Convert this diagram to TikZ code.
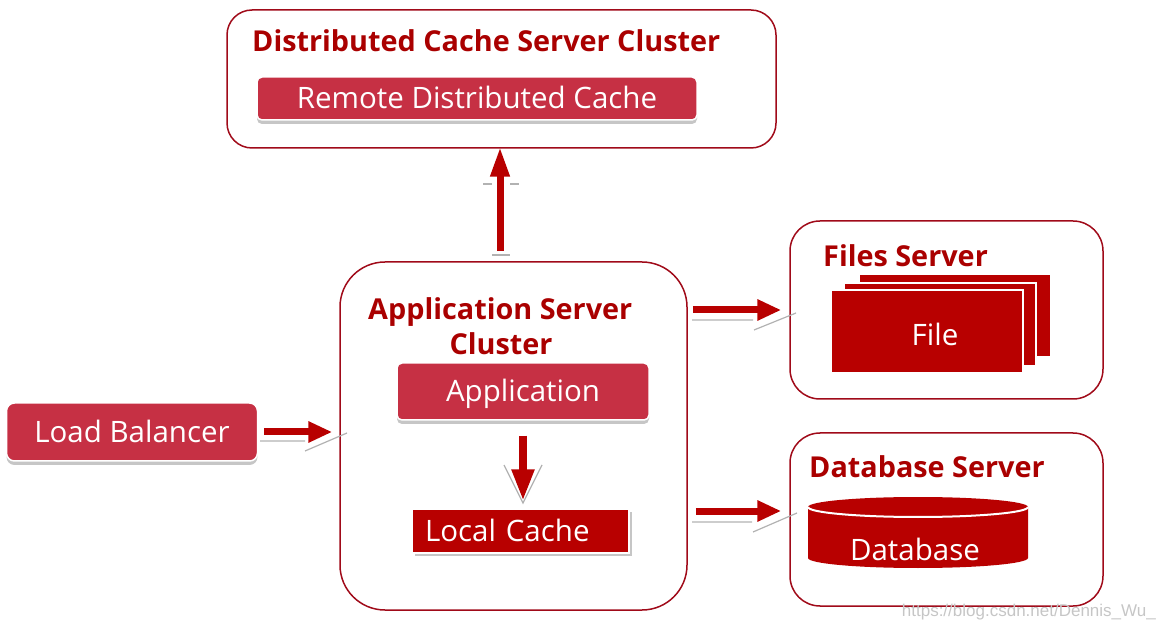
\documentclass[tikz,border=0pt]{standalone}
\usepackage{fontspec}
\setmainfont{Open Sans}
\newfontfamily\wmfont{Liberation Sans}
\usetikzlibrary{arrows.meta,shadows}
\definecolor{boxborder}{RGB}{160,10,25}
\definecolor{titlered}{RGB}{170,0,0}
\definecolor{crimson}{RGB}{198,48,68}
\definecolor{deepred}{RGB}{184,0,0}
\begin{document}
\begin{tikzpicture}[x=1pt,y=-1pt,
  container/.style={draw=boxborder, line width=1.5pt, fill=white, inner sep=0pt},
  titletext/.style={text=titlered, font=\fontsize{28.8}{31}\selectfont\bfseries, inner sep=0pt, anchor=base west},
  redbox/.style={fill=crimson, draw=white, line width=1.5pt, rounded corners=5pt, text=white,
    font=\fontsize{29.5}{31}\selectfont, inner sep=0pt, text height=21pt, text depth=0pt,
    drop shadow={shadow xshift=0pt, shadow yshift=-4pt, fill=gray!45, opacity=1}},
  deepbox/.style={fill=deepred, draw=white, line width=1.5pt, text=white,
    font=\fontsize{29.5}{31}\selectfont, text height=21pt, text depth=0pt,
    drop shadow={shadow xshift=3pt, shadow yshift=-3pt, fill=gray!45, opacity=1}},
  plaintext/.style={text=white, font=\fontsize{29.5}{31}\selectfont, inner sep=0pt, anchor=base},
  fatarrow/.style={draw=deepred, line width=7pt, -{Triangle[width=20pt,length=24pt]}},
  accent/.style={draw=gray!60, line width=1.2pt},
  filepage/.style={fill=deepred, draw=white, line width=1.5pt}
]
\useasboundingbox (0,0) rectangle (1163,628);

% containers
\node[container, rounded corners=25pt, minimum width=549pt, minimum height=138pt] (dcs) at (501.5,79) {};
\node[container, rounded corners=45pt, minimum width=347pt, minimum height=348pt] (asc) at (513.5,436) {};
\node[container, rounded corners=30pt, minimum width=313pt, minimum height=178pt] (fs) at (946.5,310) {};
\node[container, rounded corners=30pt, minimum width=313pt, minimum height=173pt] (dbs) at (946.5,519.5) {};

% titles
\node[titletext] (dcst) at (252,52) {Distributed Cache Server Cluster};
\node[titletext] (asct1) at (368,320) {Application Server};
\node[titletext, anchor=base] (asct2) at (501,355) {Cluster};
\node[titletext] (fst) at (823,267) {Files Server};
\node[titletext] (dbst) at (809,478) {Database Server};

% inner boxes
\node[redbox, minimum width=440pt, minimum height=43pt] (rdc) at (477,98.5) {Remote Distributed Cache};
\node[redbox, minimum width=252pt, minimum height=57pt] (app) at (523,391.5) {Application};
\node[redbox, rounded corners=8pt, minimum width=251pt, minimum height=58pt] (lb) at (132,432) {Load Balancer};
\node[deepbox, inner ysep=0pt, inner xsep=13pt, text width=191pt, align=left, minimum height=44pt] (lc) at (520.5,531) {Local Cache};

% file stack
\path[filepage] (859,274) rectangle (1051,357);
\path[filepage] (844,283) rectangle (1036,366);
\path[filepage] (831,290) rectangle (1023,373);
\node[plaintext] (file) at (935,346) {File};

% database cylinder
\path[fill=deepred] (808,507) -- (808,558)
  arc[start angle=180, end angle=360, x radius=110pt, y radius=10pt]
  -- (1028,507)
  arc[start angle=0, end angle=180, x radius=110pt, y radius=10pt] -- cycle;
\draw[white, line width=2pt] (808,507) arc[start angle=180, end angle=360, x radius=110pt, y radius=10pt];
\node[plaintext] (db) at (915,560) {Database};

% helper coordinates
\coordinate (upx) at (500,0);
\coordinate (downx) at (523,0);
\coordinate (fy) at (0,310);
\coordinate (dby) at (0,511);
\coordinate (lby) at (0,432);

% accents (shadows of arrows)
\draw[accent] (483,184) -- (492,184) (510,184) -- (519,184) (492,255) -- (510,255);
\draw[accent] (504,465) -- (523,503) -- (542,465);
\draw[accent] (260,441) -- (305,441) (305,451) -- (347,433);
\draw[accent] (692,320) -- (753,320) (754,330) -- (796,313);
\draw[accent] (692,522) -- (752,522) (753,532) -- (797,513);

% arrows
\draw[fatarrow, -{Triangle[width=18pt,length=30pt]}] ([yshift=10pt]asc.north -| upx) -- ([yshift=2pt]dcs.south -| upx);
\draw[fatarrow, line width=8pt, -{Triangle[width=21pt,length=32pt]}] ([yshift=-15pt]app.south -| downx) -- ([yshift=7pt]lc.north -| downx);
\draw[fatarrow] ([xshift=6pt]lb.east |- lby) -- ([xshift=-7pt]asc.west |- lby);
\draw[fatarrow] ([xshift=5pt]asc.east |- fy) -- ([xshift=-8pt]fs.west |- fy);
\draw[fatarrow] ([xshift=8pt]asc.east |- dby) -- ([xshift=-8pt]dbs.west |- dby);

% watermark
\node[text=gray!45, font=\wmfont\fontsize{17}{19}\selectfont, inner sep=0pt, anchor=base east] (wm) at (1156,616) {https://blog.csdn.net/Dennis\_Wu\_};
\end{tikzpicture}
\end{document}
